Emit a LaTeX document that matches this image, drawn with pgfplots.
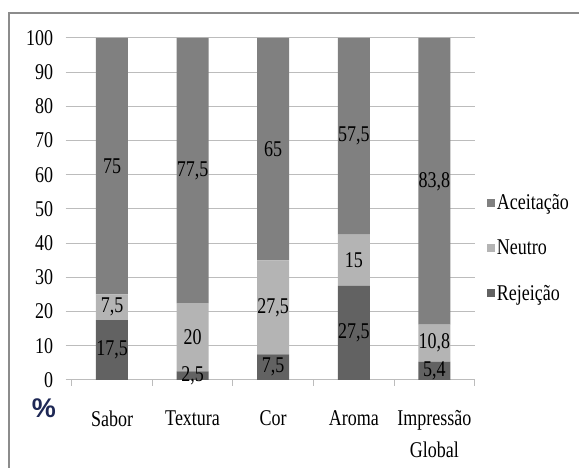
\documentclass[border=0pt]{standalone}
\usepackage{fontspec}
\setmainfont{Liberation Serif}[FakeStretch=0.8]
\newfontfamily\pctfont{Liberation Sans}
\usepackage{pgfplots}
\usepackage{pgfplotstable}
\pgfplotsset{compat=1.18}

\definecolor{acei}{RGB}{128,128,128}
\definecolor{neut}{RGB}{180,180,180}
\definecolor{reje}{RGB}{98,98,98}
\definecolor{gridc}{RGB}{188,188,188}
\definecolor{framec}{RGB}{140,140,140}
\definecolor{pctc}{RGB}{30,40,85}

\newcommand\lbl{\fontsize{22.5}{29}\selectfont}

% x: category index; rej/neu/ace: shares in percent
\pgfplotstableread{
x rej neu ace
0 17.5 7.5 75
1 2.5 20 77.5
2 7.5 27.5 65
3 27.5 15 57.5
4 5.4 10.8 83.8
}\avaliacao

\pgfplotsset{
  frame/.style={
    at={(71.7pt,88pt)}, anchor=south west,
    scale only axis, width=403pt, height=342pt,
    xmin=-0.5, xmax=4.5, ymin=0, ymax=100,
    /pgf/number format/use comma,
    /pgf/number format/assume math mode=true,
  },
  % value label in the middle of its segment
  seglabel/.style={
    only marks, mark=none, point meta=explicit,
    nodes near coords={\pgfmathprintnumber{\pgfplotspointmeta}},
    every node near coord/.append style={anchor=center, font=\lbl, text=black, inner sep=0pt},
  },
}

\begin{document}
\begin{tikzpicture}
\useasboundingbox (0pt,0pt) rectangle (579pt,468pt);
\draw[framec, line width=1.2pt] (9pt,-2pt) -- (9pt,455pt) -- (582pt,455pt);
\node[font=\pctfont\bfseries\fontsize{27}{27}\selectfont, text=pctc] at (44pt,60pt) {\%};
\begin{axis}[
  frame,
  ybar stacked, bar width=32pt,
  ytick={0,10,...,100},
  xtick={-0.5,0.5,...,4.5}, xticklabels={},
  extra x ticks={0,1,2,3,4},
  extra x tick labels={Sabor,Textura,Cor,Aroma,{Impressão\\[3pt]Global}},
  extra x tick style={major tick length=0pt, xticklabel style={anchor=north, align=center, yshift=-27pt}},
  axis x line*=bottom, axis y line*=left,
  y axis line style={draw=none},
  x axis line style={draw=gridc, line width=1pt, -},
  ymajorgrids, grid style={gridc, line width=1pt},
  tick align=outside, major tick length=6pt,
  tick style={gridc, line width=1pt},
  ticklabel style={font=\lbl},
  yticklabel style={xshift=-9pt},
  reverse legend,
  legend cell align=left,
  legend style={at={(axis description cs:1,0.386)}, anchor=west, xshift=12pt,
    draw=none, fill=none, inner sep=0pt, font=\lbl, row sep=25pt},
  legend image code/.code={\fill[#1] (0pt,-4pt) rectangle (8pt,4pt);},
]
\addplot[fill=reje, draw=none] table[x=x, y=rej] {\avaliacao};
\addplot[fill=neut, draw=none] table[x=x, y=neu] {\avaliacao};
\addplot[fill=acei, draw=none] table[x=x, y=ace] {\avaliacao};
\legend{Rejeição,Neutro,Aceitação}
\end{axis}
\begin{axis}[frame, hide axis]
\addplot[seglabel] table[x=x, y expr=\thisrow{rej}/2, meta=rej] {\avaliacao};
\addplot[seglabel] table[x=x, y expr=\thisrow{rej}+\thisrow{neu}/2, meta=neu] {\avaliacao};
\addplot[seglabel] table[x=x, y expr=\thisrow{rej}+\thisrow{neu}+\thisrow{ace}/2, meta=ace] {\avaliacao};
\end{axis}
\end{tikzpicture}
\end{document}
